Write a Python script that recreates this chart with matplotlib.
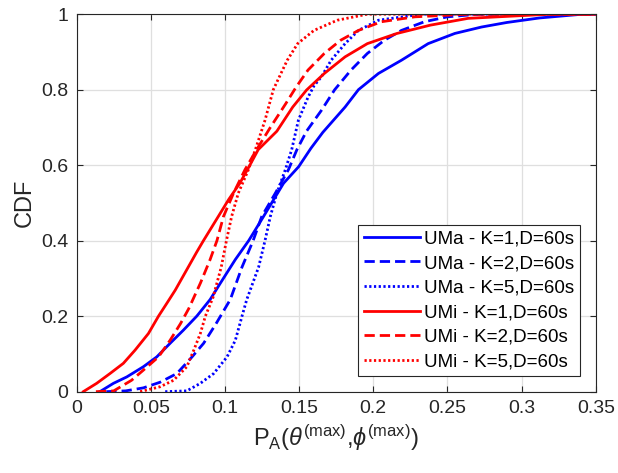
import matplotlib
matplotlib.use("Agg")
import matplotlib.pyplot as plt

plt.rcParams["font.family"] = ["Liberation Sans", "DejaVu Sans"]
plt.rcParams["mathtext.fontset"] = "custom"
plt.rcParams["mathtext.rm"] = "Liberation Sans"
plt.rcParams["mathtext.it"] = "Liberation Sans:italic"

# CDF curves (x = P_A value, y = CDF)
uma_k1_x = [0.0157, 0.0248, 0.0338, 0.045, 0.054, 0.063, 0.072, 0.081, 0.090, 0.097, 0.107, 0.116,
            0.126, 0.1315, 0.1395, 0.1497, 0.158, 0.166, 0.181, 0.19, 0.2035, 0.219, 0.237, 0.255,
            0.273, 0.29, 0.312, 0.341, 0.35]
uma_k1_y = [0, 0.022, 0.039, 0.066, 0.092, 0.128, 0.163, 0.2, 0.244, 0.288, 0.35, 0.4,
            0.464, 0.5, 0.552, 0.596, 0.645, 0.687, 0.754, 0.8, 0.843, 0.878, 0.922, 0.949,
            0.966, 0.978, 0.99, 1.0, 1.0]

uma_k2_x = [0.020, 0.033, 0.045, 0.0563, 0.0676, 0.0778, 0.0856, 0.094, 0.1036, 0.1115, 0.119, 0.1248,
            0.134, 0.1428, 0.1485, 0.155, 0.165, 0.174, 0.185, 0.196, 0.2075, 0.219, 0.2345, 0.25,
            0.271, 0.35]
uma_k2_y = [0, 0.002, 0.01, 0.025, 0.048, 0.092, 0.128, 0.18, 0.244, 0.33, 0.4, 0.464,
            0.526, 0.588, 0.641, 0.69, 0.745, 0.8, 0.852, 0.896, 0.931, 0.957, 0.98, 0.993,
            1.0, 1.0]

uma_k5_x = [0.0597, 0.0743, 0.0834, 0.0924, 0.1014, 0.107, 0.1115, 0.1147, 0.1227, 0.127, 0.1306, 0.135,
            0.1407, 0.145, 0.1495, 0.156, 0.160, 0.165, 0.1716, 0.181, 0.19, 0.2035, 0.2325, 0.35]
uma_k5_y = [0, 0.002, 0.022, 0.048, 0.092, 0.136, 0.2, 0.244, 0.33, 0.4, 0.464, 0.526,
            0.588, 0.641, 0.719, 0.78, 0.81, 0.834, 0.878, 0.922, 0.957, 0.984, 1.0, 1.0]

umi_k1_x = [0.0045, 0.0135, 0.0225, 0.0315, 0.0394, 0.0484, 0.0552, 0.0608, 0.0665, 0.081, 0.0855,
            0.0955, 0.1025, 0.110, 0.1168, 0.1224, 0.135, 0.1457, 0.155, 0.167, 0.181, 0.196, 0.216,
            0.2385, 0.264, 0.319, 0.35]
umi_k1_y = [0, 0.022, 0.048, 0.075, 0.11, 0.154, 0.2, 0.234, 0.269, 0.37, 0.4,
            0.464, 0.509, 0.552, 0.6, 0.641, 0.69, 0.754, 0.799, 0.843, 0.887, 0.922, 0.949,
            0.971, 0.989, 1.0, 1.0]

umi_k2_x = [0.013, 0.025, 0.037, 0.045, 0.0552, 0.063, 0.070, 0.0756, 0.0835, 0.090, 0.0946, 0.099,
            0.1058, 0.1135, 0.1213, 0.1306, 0.141, 0.148, 0.156, 0.167, 0.178, 0.19, 0.2055, 0.228,
            0.264, 0.35]
umi_k2_y = [0, 0.002, 0.03, 0.057, 0.092, 0.136, 0.18, 0.22, 0.288, 0.35, 0.4, 0.464,
            0.526, 0.588, 0.641, 0.70, 0.763, 0.807, 0.852, 0.896, 0.931, 0.957, 0.98, 0.993,
            1.0, 1.0]

umi_k5_x = [0.0428, 0.0563, 0.0653, 0.0743, 0.079, 0.0834, 0.0868, 0.092, 0.0975, 0.101, 0.1045, 0.109,
            0.1158, 0.1205, 0.127, 0.1326, 0.138, 0.142, 0.149, 0.16, 0.1757, 0.196, 0.35]
umi_k5_y = [0, 0.013, 0.03, 0.066, 0.11, 0.154, 0.2, 0.25, 0.33, 0.4, 0.464, 0.526,
            0.588, 0.641, 0.719, 0.8, 0.845, 0.878, 0.922, 0.957, 0.984, 1.0, 1.0]

labels = ["UMa - K=1,D=60s", "UMa - K=2,D=60s", "UMa - K=5,D=60s",
          "UMi - K=1,D=60s", "UMi - K=2,D=60s", "UMi - K=5,D=60s"]

fig = plt.figure(figsize=(6.18, 4.73), dpi=100)
ax = fig.add_axes([0.124, 0.172, 0.84, 0.798])

series = [
    (uma_k1_x, uma_k1_y, "#0000ff", "-"),
    (uma_k2_x, uma_k2_y, "#0000ff", (0, (3.7, 1.8))),
    (uma_k5_x, uma_k5_y, "#0000ff", (0, (0.8, 0.9))),
    (umi_k1_x, umi_k1_y, "#ff0000", "-"),
    (umi_k2_x, umi_k2_y, "#ff0000", (0, (3.7, 1.8))),
    (umi_k5_x, umi_k5_y, "#ff0000", (0, (0.8, 0.9))),
]
for (xs, ys, col, ls), lab in zip(series, labels):
    ax.plot(xs, ys, color=col, linestyle=ls, linewidth=2, label=lab)

ax.set_xlim(0, 0.35)
ax.set_ylim(0, 1)
ax.set_xticks([0, 0.05, 0.1, 0.15, 0.2, 0.25, 0.3, 0.35])
ax.set_xticklabels(["0", "0.05", "0.1", "0.15", "0.2", "0.25", "0.3", "0.35"])
ax.set_yticks([0, 0.2, 0.4, 0.6, 0.8, 1])
ax.set_yticklabels(["0", "0.2", "0.4", "0.6", "0.8", "1"])
ax.grid(True, color="#dfdfdf", linewidth=0.9)
ax.set_axisbelow(True)
ax.tick_params(direction="in", top=True, right=True, length=4, labelsize=14,
               colors="#262626", pad=6)
for sp in ax.spines.values():
    sp.set_color("#262626")
    sp.set_linewidth(0.8)

ax.set_xlabel(r"P$_\mathrm{A}$($\theta^{\mathrm{(max)}}$,$\phi^{\mathrm{(max)}}$)",
              fontsize=17, color="#262626")
ax.set_ylabel("CDF", fontsize=17, color="#262626")

leg = ax.legend(loc="lower right", bbox_to_anchor=(0.969, 0.041), fontsize=13.5,
                frameon=True, fancybox=False, framealpha=1, edgecolor="#262626",
                handlelength=3.0, handletextpad=0.2, labelspacing=0.4,
                borderpad=0.3, borderaxespad=0)
leg.get_frame().set_linewidth(0.8)

fig.savefig("out.png", dpi=100)
